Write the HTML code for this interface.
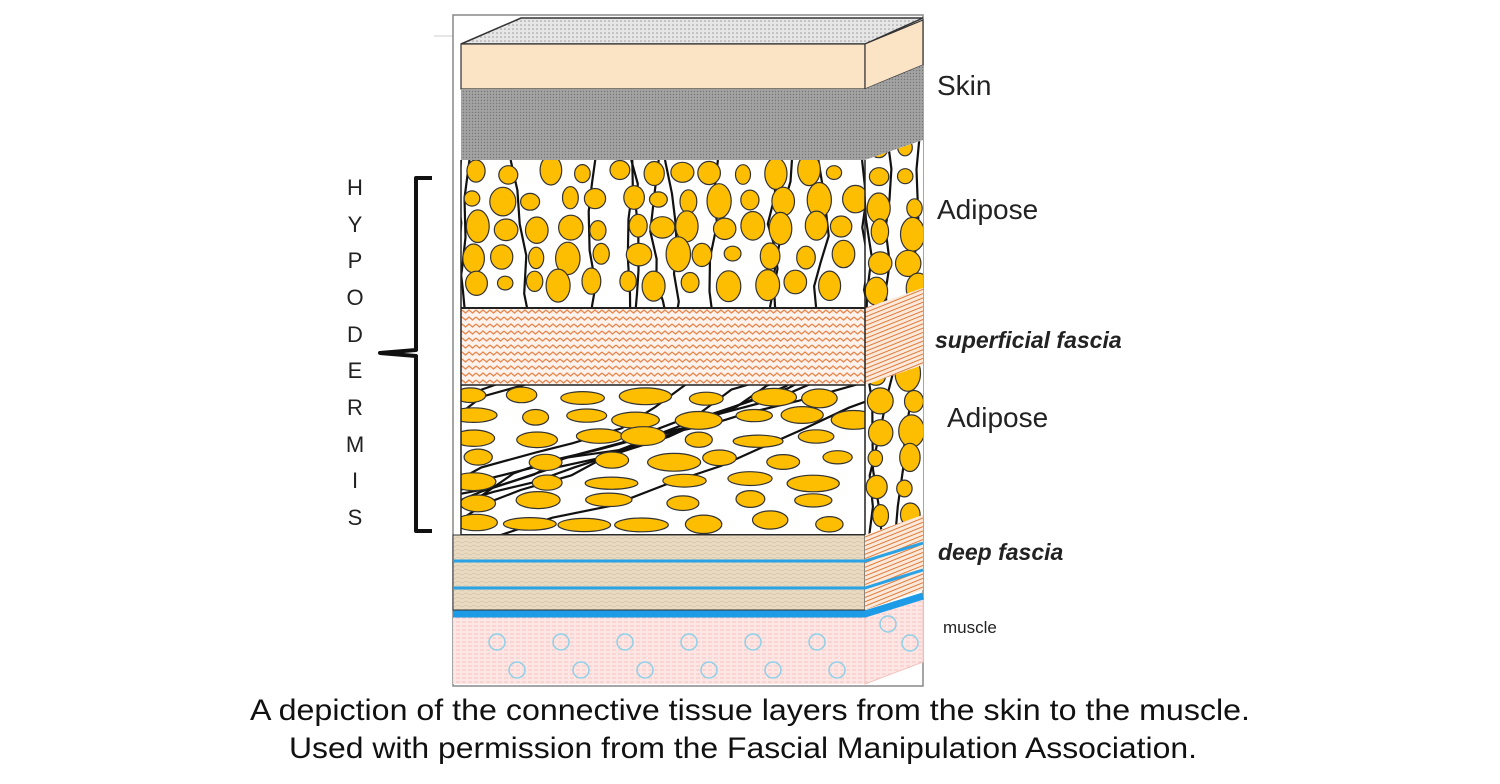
<!DOCTYPE html>
<html><head><meta charset="utf-8"><style>
html,body{margin:0;padding:0;background:#fff;}
svg{display:block}
text{font-family:"Liberation Sans",sans-serif}
</style></head><body>
<svg id="s" width="1500" height="784" viewBox="0 0 1500 784" xmlns="http://www.w3.org/2000/svg">
<defs>
<pattern id="dots" width="4" height="4" patternUnits="userSpaceOnUse"><rect width="4" height="4" fill="#e6e6e6"/><circle cx="1" cy="1" r="0.8" fill="#999"/></pattern>
<pattern id="derm" width="3" height="3" patternUnits="userSpaceOnUse"><rect width="3" height="3" fill="#a3a3a3"/><circle cx="1.5" cy="1.5" r="0.7" fill="#777"/></pattern>
<pattern id="zig" width="14" height="7" patternUnits="userSpaceOnUse"><rect width="14" height="7" fill="#fdf3ec"/><polyline points="0,2 3.5,5 7,2 10.5,5 14,2" fill="none" stroke="#e8874f" stroke-width="1.3"/></pattern>
<pattern id="hatch" width="6" height="4" patternUnits="userSpaceOnUse" patternTransform="rotate(-22)"><rect width="6" height="4" fill="#fbeadc"/><line x1="0" y1="2" x2="6" y2="2" stroke="#e07a3a" stroke-width="1"/></pattern>
<pattern id="beige" width="8" height="4" patternUnits="userSpaceOnUse"><rect width="8" height="4" fill="#e9dbc3"/><polyline points="0,2 2,1 4,2 6,3 8,2" fill="none" stroke="#d8c6a8" stroke-width="0.8"/></pattern>
<pattern id="pink" width="6" height="4" patternUnits="userSpaceOnUse"><rect width="6" height="4" fill="#fde6e4"/><line x1="0" y1="2" x2="4" y2="2" stroke="#f3c3bf" stroke-width="1"/></pattern>
<clipPath id="a1"><rect x="461" y="160" width="404" height="148"/></clipPath>
<clipPath id="a2"><rect x="461" y="385" width="404" height="150"/></clipPath>
<clipPath id="r1"><polygon points="865,160 923,140 923,288 865,308"/></clipPath>
<clipPath id="r2"><polygon points="865,385 923,365 923,515 865,535"/></clipPath>
</defs>
<line x1="434" y1="36" x2="453" y2="36" stroke="#ccc"/>
<rect x="453" y="15" width="470" height="671" fill="#fff" stroke="#888" stroke-width="1.5"/>
<polygon points="461,44 521,18 923,18 865,44" fill="url(#dots)" stroke="#333" stroke-width="1.5"/>
<rect x="461" y="44" width="404" height="45" fill="#fbe3c5" stroke="#333" stroke-width="1.2"/>
<polygon points="865,44 923,20 923,65 865,89" fill="#fbe3c5" stroke="#333" stroke-width="1.2"/>
<rect x="461" y="89" width="404" height="71" fill="url(#derm)"/>
<polygon points="865,89 923,65 923,140 865,160" fill="url(#derm)"/>
<rect x="461" y="160" width="404" height="148" fill="#fff"/>
<g id="g1" clip-path="url(#a1)"></g>
<polygon points="865,160 923,140 923,288 865,308" fill="#fff"/>
<g id="g1r" clip-path="url(#r1)"></g>
<rect x="461" y="308" width="404" height="77" fill="url(#zig)"/>
<polygon points="865,308 923,288 923,365 865,385" fill="url(#hatch)"/>
<rect x="461" y="385" width="404" height="150" fill="#fff"/>
<g id="g2" clip-path="url(#a2)"></g>
<polygon points="865,385 923,365 923,515 865,535" fill="#fff"/>
<g id="g2r" clip-path="url(#r2)"></g>
<line x1="461" y1="308" x2="865" y2="308" stroke="#222" stroke-width="2"/>
<line x1="461" y1="385" x2="865" y2="385" stroke="#222" stroke-width="1.5"/>
<line x1="461" y1="535" x2="865" y2="535" stroke="#222" stroke-width="2"/>
<line x1="865" y1="160" x2="865" y2="535" stroke="#222" stroke-width="1.5"/>
<line x1="461" y1="160" x2="461" y2="535" stroke="#222" stroke-width="1.5"/>
<rect x="453" y="535" width="412" height="75" fill="url(#beige)" stroke="#333" stroke-width="1"/>
<polygon points="865,535 923,515 923,590 865,610" fill="url(#hatch)"/>
<polyline points="453,561 865,561 923,543" fill="none" stroke="#29a3e6" stroke-width="3"/>
<polyline points="453,588 865,588 923,570" fill="none" stroke="#29a3e6" stroke-width="3"/>
<rect x="453" y="617" width="412" height="67" fill="url(#pink)"/>
<polygon points="865,617 923,597 923,662 865,684" fill="url(#pink)" stroke="#f3c3bf"/>
<polyline points="453,614 865,614 923,596" fill="none" stroke="#1e9be6" stroke-width="7"/>
<g fill="none" stroke="#8fd0e8" stroke-width="1.5">
<circle cx="497" cy="642" r="8"/><circle cx="561" cy="642" r="8"/><circle cx="625" cy="642" r="8"/><circle cx="689" cy="642" r="8"/><circle cx="753" cy="642" r="8"/><circle cx="817" cy="642" r="8"/>
<circle cx="517" cy="670" r="8"/><circle cx="581" cy="670" r="8"/><circle cx="645" cy="670" r="8"/><circle cx="709" cy="670" r="8"/><circle cx="773" cy="670" r="8"/><circle cx="837" cy="670" r="8"/>
<circle cx="888" cy="624" r="8"/><circle cx="910" cy="643" r="8"/>
</g>
<path d="M432,178 L416,178 L416,350 L380,353 L416,356 L416,531 L432,531" fill="none" stroke="#111" stroke-width="4" stroke-linejoin="round"/>
<g font-size="22" fill="#222" text-anchor="middle">
<text x="355" y="195">H</text><text x="355" y="232">Y</text><text x="355" y="268">P</text><text x="355" y="305">O</text><text x="355" y="342">D</text><text x="355" y="378">E</text><text x="355" y="415">R</text><text x="355" y="452">M</text><text x="355" y="488">I</text><text x="355" y="525">S</text>
</g>
<g fill="#222">
<text x="937" y="95" font-size="28">Skin</text>
<text x="937" y="219" font-size="28">Adipose</text>
<text x="935" y="348" font-size="23" font-weight="bold" font-style="italic">superficial fascia</text>
<text x="947" y="427" font-size="28">Adipose</text>
<text x="938" y="560" font-size="23" font-weight="bold" font-style="italic">deep fascia</text>
<text x="943" y="633" font-size="17">muscle</text>
</g>
<g font-size="30" fill="#111" text-anchor="middle">
<text x="750" y="720" textLength="1000" lengthAdjust="spacingAndGlyphs">A depiction of the connective tissue layers from the skin to the muscle.</text>
<text x="743" y="758" textLength="908" lengthAdjust="spacingAndGlyphs">Used with permission from the Fascial Manipulation Association.</text>
</g>
<script><![CDATA[
var seed=7;function r(){seed=(seed*16807)%2147483647;return (seed-1)/2147483646;}
var NS="http://www.w3.org/2000/svg";
function el(g,n,a){var e=document.createElementNS(NS,n);for(var k in a)e.setAttribute(k,a[k]);g.appendChild(e);}
function fill(id,x0,y0,w,h,vertical){
 var g=document.getElementById(id);
 for(var i=0;i<(vertical?Math.max(3,Math.round(w/32)):11);i++){
  var d;
  if(vertical){var x=x0+r()*w;d="M"+x+","+y0;var yy=y0;while(yy<y0+h){yy+=20+r()*20;x+=(r()-0.5)*16;d+=" L"+x.toFixed(1)+","+yy.toFixed(1);}}
  else{var y=y0+h*(r()*1.3);var x=x0-10;d="M"+x+","+y;while(x<x0+w+10){x+=30+r()*30;y-=8+r()*16;d+=" L"+x.toFixed(1)+","+y.toFixed(1);}}
  el(g,"path",{d:d,fill:"none",stroke:"#111","stroke-width":2.2});
 }
 var sx=vertical?30:58,sy=vertical?28:21;
 for(var yy=y0+12;yy<y0+h;yy+=sy){for(var xx=x0+8+(r()*10);xx<x0+w;xx+=sx*(0.8+r()*0.5)){
  var rx,ry;
  if(vertical){rx=7+r()*6;ry=rx*(0.85+r()*0.6);} else {rx=13+r()*14;ry=6+r()*3.5;}
  el(g,"ellipse",{cx:(xx+(r()-0.5)*6).toFixed(1),cy:(yy+(r()-0.5)*6).toFixed(1),rx:rx.toFixed(1),ry:ry.toFixed(1),fill:"#fdbd00",stroke:"#333","stroke-width":1.2});
 }}
}
fill("g1",461,160,404,148,true);
fill("g1r",865,138,58,170,true);
fill("g2",461,385,404,150,false);
fill("g2r",865,363,58,172,true);
]]></script>
</svg>
</body></html>
